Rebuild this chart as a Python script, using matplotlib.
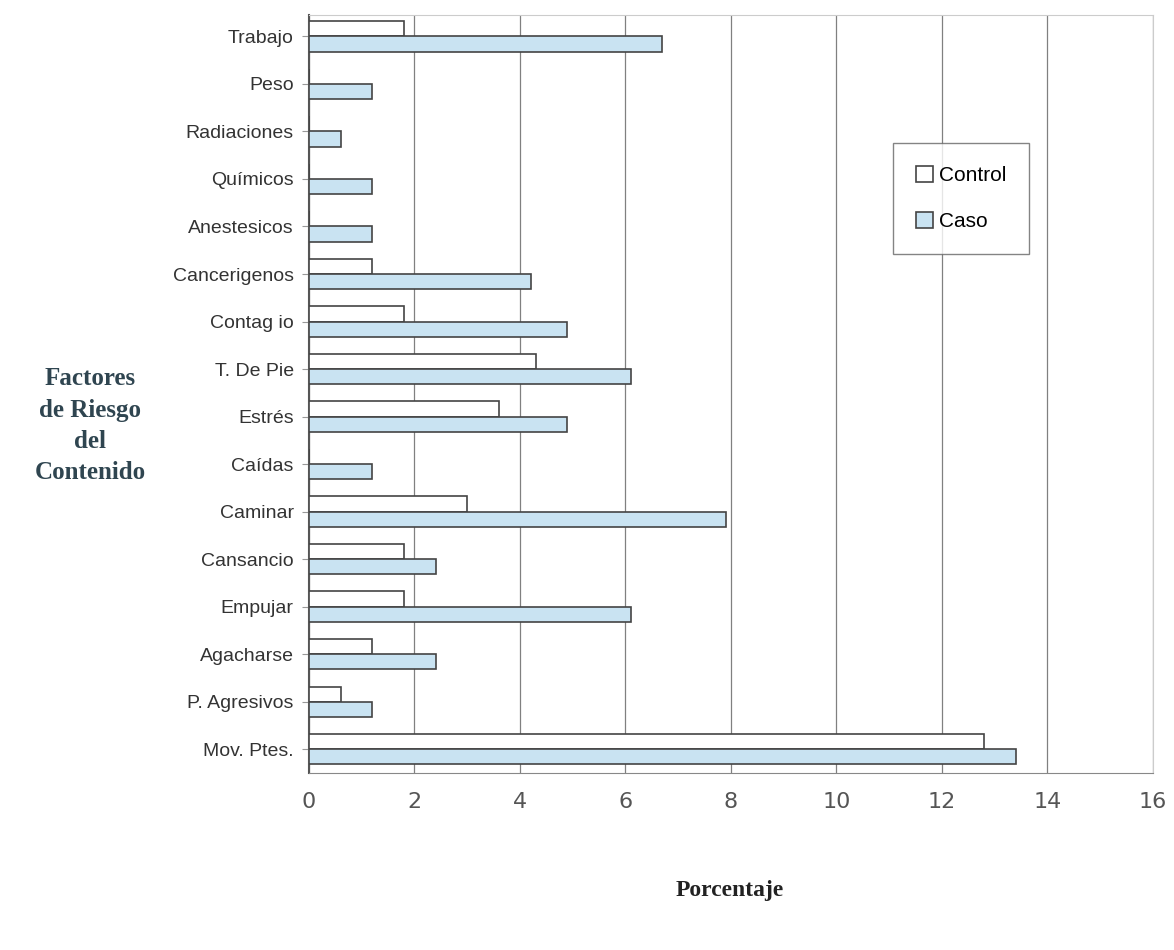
import numpy as np
import matplotlib
matplotlib.use('Agg')
import matplotlib.pyplot as plt

categorias = ['Mov. Ptes.', 'P. Agresivos', 'Agacharse', 'Empujar', 'Cansancio',
              'Caminar', 'Caídas', 'Estrés', 'T. De Pie', 'Contag io',
              'Cancerigenos', 'Anestesicos', 'Químicos', 'Radiaciones', 'Peso', 'Trabajo']
control = [12.8, 0.6, 1.2, 1.8, 1.8, 3.0, 0.0, 3.6, 4.3, 1.8, 1.2, 0.0, 0.0, 0.0, 0.0, 1.8]
caso = [13.4, 1.2, 2.4, 6.1, 2.4, 7.9, 1.2, 4.9, 6.1, 4.9, 4.2, 1.2, 1.2, 0.6, 1.2, 6.7]
xticks = [0, 2, 4, 6, 8, 10, 12, 14, 16]

fig = plt.figure(figsize=(11.74, 9.5), dpi=100)
ax = fig.add_axes([0.2632, 0.1863, 0.7188, 0.7979])

y = np.arange(len(categorias))
h = 0.32
ax.barh(y + h / 2, control, height=h, color='white', edgecolor='#444444',
        linewidth=1.2, label='Control', zorder=3)
ax.barh(y - h / 2, caso, height=h, color='#c9e3f2', edgecolor='#444444',
        linewidth=1.2, label='Caso', zorder=3)

ax.set_xlim(0, 16)
ax.set_ylim(-0.5, 15.45)
ax.set_xticks(xticks)
ax.set_xticklabels([str(t) for t in xticks], fontsize=16, color='#555555',
                   family='DejaVu Sans')
ax.set_yticks(y)
ax.set_yticklabels(categorias, fontsize=14, color='#333333', family='Liberation Sans')
ax.tick_params(axis='x', length=0, pad=14)
ax.tick_params(axis='y', length=5, color='#999999', pad=6)
ax.grid(axis='x', color='#808080', linewidth=0.9, zorder=0)

for s in ['top', 'right']:
    ax.spines[s].set_color('#cccccc')
ax.spines['left'].set_color('#555555')
ax.spines['left'].set_linewidth(1.5)
ax.spines['bottom'].set_color('#888888')

fig.text(0.077, 0.552, 'Factores\nde Riesgo\ndel\nContenido', ha='center', va='center',
         fontsize=18, fontweight='bold', family='Liberation Serif', color='#2f4550',
         linespacing=1.45)
fig.text(0.622, 0.063, 'Porcentaje', ha='center', va='center', fontsize=17,
         fontweight='bold', family='Liberation Serif', color='#222222')

leg = ax.legend(loc='upper left', bbox_to_anchor=(0.68, 0.845),
                prop={'family': 'Liberation Sans', 'size': 15}, frameon=True,
                fancybox=False, edgecolor='#666666', handlelength=0.8,
                handleheight=0.8, handletextpad=0.3, labelspacing=1.3,
                borderpad=1.1)
leg.get_frame().set_linewidth(1.0)

fig.savefig('out.png', dpi=100)
